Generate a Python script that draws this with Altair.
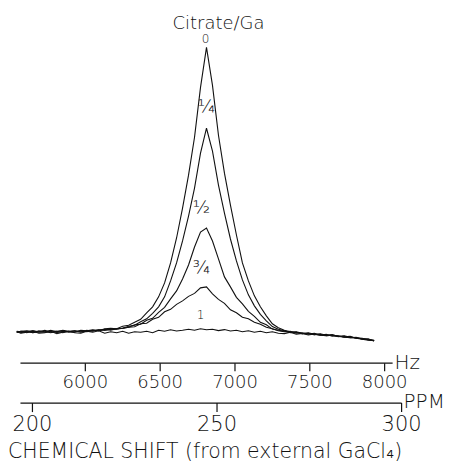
import altair as alt
import pandas as pd

hz = [5545, 5573, 5613, 5653, 5693, 5733, 5773, 5813, 5853, 5893,
      5933, 5973, 6013, 6053, 6093, 6133, 6173, 6213, 6253, 6293,
      6333, 6373, 6413, 6453, 6493, 6533, 6573, 6613, 6653, 6693,
      6733, 6773, 6813, 6853, 6893, 6933, 6973, 7013, 7053, 7093,
      7133, 7173, 7213, 7253, 7293, 7333, 7373, 7413, 7453, 7493,
      7533, 7573, 7613, 7653, 7693, 7733, 7773, 7813, 7853, 7893,
      7933]

# Signal intensity (arbitrary units) for each citrate/Ga ratio
r_0 = [0.5, 1.5, 2, 0, 1, 2.5, 0.5, 1, 2.5, 1.5,
       0.5, 2.5, 2, 3, 2, 4, 4.5, 4, 6.5, 7.5,
       10.5, 13.5, 20, 26, 36, 50, 70, 95, 125, 158,
       196, 246, 286, 248, 198, 160, 128, 98, 70, 52,
       37, 26, 17,
       9, 5, 2.5, 1, 0.5, -1, 0, -1.5, -2.5, -1.5,
       -3.5, -3, -4.5, -5, -4.5, -6.5, -7.5, -8]
r_14 = [1, 0, 1.5, 2, 0.5, 1, 2.5, 0, 1.5, 1,
        2, 0.5, 2.5, 1.5, 3, 2.5, 3.5, 4, 4.5, 6.5,
        7.5, 11, 14, 19.5, 26, 36, 52, 70, 92, 117,
        145, 180, 205, 182, 148, 120, 94, 72, 53, 38,
        27, 18.5, 12,
        6.2, 3.5, 2, 0.5, 1, -0.5, -1.5, -0.5, -2, -2.5,
        -2, -3.5, -4, -3.5, -5.5, -6, -6.5, -7.8]
r_12 = [1.5, 1, 0, 2, 1, 0.5, 2, 1.5, 0, 1.5,
        2, 1, 1.5, 2.5, 2, 3.5, 2.5, 4, 4.5, 5.5,
        8, 8.5, 12.5, 14.5, 20.5, 25.5, 34, 42, 54, 68,
        86, 101, 105, 92, 74, 56, 46, 35.5, 29, 21.5,
        16.5, 10.5, 8,
        3.7, 2.5, 1.5, 0, 0.5, -1, -0.5, -2, -1.5, -3,
        -2.5, -3.5, -4.5, -4, -5.5, -6.5, -6, -8.2]
r_34 = [0.5, 1.5, 1, 0, 2, 1, 0, 1.5, 2, 0.5,
        1, 2, 1, 2, 3, 2.5, 3.5, 3.5, 4.5, 5.5,
        6, 9, 9.5, 13.5, 15.5, 21, 23.5, 28.5, 32, 36.5,
        39.5, 45, 46, 39, 33.5, 29.5, 23, 20, 15.5, 14,
        10.5, 8.5, 5.5,
        4, 2, 1, 1.5, -0.5, 0, -1, -2, -1, -2.5,
        -2, -3.5, -3, -4.5, -5, -5.5, -7, -7.5]
r_1 = [1, -0.5, 0.5, 1.5, -0.5, 0, 1.5, -1, 0.5, 1.5,
       0, -0.5, 1.5, 0.5, 2, -0.5, 1, 0, 1.5, -0.5,
       1, 0.5, 1.5, 0, 2.5, 1.5, 3, 1.8, 2.5, 3.5,
       2.5, 4, 3, 3.5, 2.2, 3.2, 1.8, 2.5, 1, 2,
       0.5, 1.5, 0,
       1, -0.5, -0.8, 0.5, -1.5, -0.8, -2.2, -1.2, -2.5, -3,
       -2.5, -4, -3.5, -5, -5.2, -6, -7, -8]

series = {"0": r_0, "1/4": r_14, "1/2": r_12, "3/4": r_34, "1": r_1}

# Curve labels
frac_text = ["¼", "½", "¾"]
frac_hz = [6813, 6780, 6780]
frac_y = [226, 125, 65]
small_text = ["0", "1"]
small_hz = [6807, 6773]
small_y = [294, 18]
top_text = ["Citrate/Ga"]
top_hz = [6893]
top_y = [309.5]

hz_ticks = [6000, 6500, 7000, 7500, 8000]
ppm_ticks = [200, 250, 300]

FONT = "DejaVu Sans"
INK = "#111111"

rows = []
for name, vals in series.items():
    for i, (h, v) in enumerate(zip(hz, vals)):
        rows.append({"series": name, "idx": i, "hz": h, "intensity": v})
df = pd.DataFrame(rows)

hz_scale = alt.Scale(domain=[5566.7, 8053.3], range=[12, 385], nice=False, zero=False)
y_scale = alt.Scale(domain=[-30, 325], nice=False, zero=False)

hz_axis = alt.Axis(
    values=hz_ticks, format="d", orient="bottom", offset=0, grid=False,
    domainColor=INK, domainWidth=1.2, tickColor=INK, tickWidth=1.2, tickSize=8,
    labelFont=FONT, labelFontSize=18, labelFontWeight=200, labelColor=INK,
    labelPadding=12, labelBaseline="middle", labelFlush=False, labelOverlap=False,
    title="Hz", titleX=387, titleY=0, titleAlign="left", titleBaseline="middle",
    titleAngle=0, titleFont=FONT, titleFontSize=20, titleFontWeight=200, titleColor=INK,
)

X = alt.X("hz:Q", scale=hz_scale, axis=hz_axis)
Y = alt.Y("intensity:Q", scale=y_scale, axis=None)

lines = alt.Chart(df).mark_line(color=INK, strokeWidth=1.1).encode(
    x=X, y=Y, detail="series:N", order="idx:Q"
)

frac_df = pd.DataFrame({"hz": frac_hz, "intensity": frac_y, "label": frac_text})
small_df = pd.DataFrame({"hz": small_hz, "intensity": small_y, "label": small_text})
top_df = pd.DataFrame({"hz": top_hz, "intensity": top_y, "label": top_text})

frac_lab = alt.Chart(frac_df).mark_text(
    font=FONT, fontSize=18, fontWeight=200, color=INK, baseline="middle", align="center"
).encode(x=X, y=Y, text="label:N")
small_lab = alt.Chart(small_df).mark_text(
    font=FONT, fontSize=12, fontWeight=200, color=INK, baseline="middle", align="center"
).encode(x=X, y=Y, text="label:N")
top_lab = alt.Chart(top_df).mark_text(
    font=FONT, fontSize=18, fontWeight=200, color=INK, baseline="middle", align="center"
).encode(x=X, y=Y, text="label:N")

spectrum = alt.layer(lines, frac_lab, small_lab, top_lab)

ppm_df = pd.DataFrame({"ppm": ppm_ticks, "intensity": [0] * len(ppm_ticks)})
ppm_axis = alt.Axis(
    values=ppm_ticks, format="d", orient="bottom", offset=40, grid=False,
    domainColor=INK, domainWidth=1.2, tickColor=INK, tickWidth=1.2, tickSize=9,
    labelFont=FONT, labelFontSize=21, labelFontWeight=200, labelColor=INK,
    labelPadding=13, labelBaseline="middle", labelFlush=False, labelOverlap=False,
    title="PPM", titleX=396, titleY=-1, titleAlign="left", titleBaseline="middle",
    titleAngle=0, titleFont=FONT, titleFontSize=20, titleFontWeight=200, titleColor=INK,
)
ppm_layer = alt.Chart(ppm_df).mark_point(opacity=0).encode(
    x=alt.X("ppm:Q", scale=alt.Scale(domain=[196.76, 300], range=[12, 394], nice=False, zero=False), axis=ppm_axis),
    y=Y,
)

chart = alt.layer(spectrum, ppm_layer).resolve_scale(x="independent").properties(
    width=394, height=355, padding=0,
    title=alt.TitleParams(
        text="CHEMICAL SHIFT (from external GaCl₄)", orient="bottom", anchor="start",
        offset=8, font=FONT, fontSize=20.5, fontWeight=200, color=INK,
    ),
).configure_view(stroke=None)

chart.save("out.html", embed_options={"renderer": "svg", "actions": False})
